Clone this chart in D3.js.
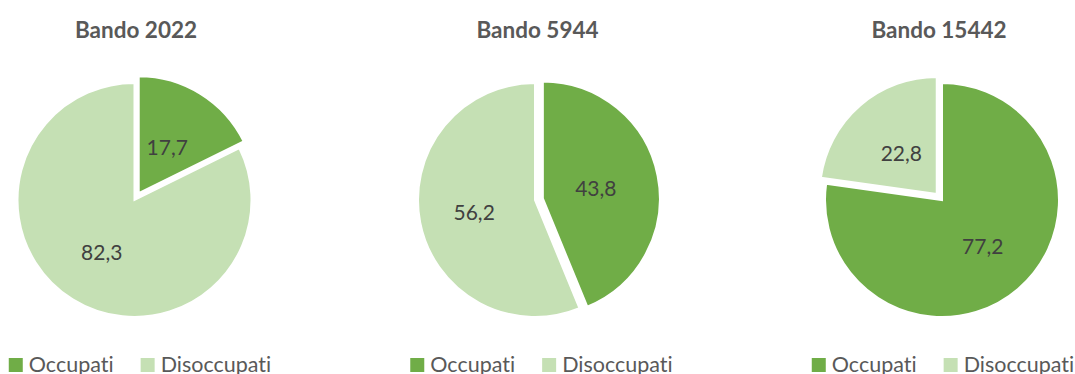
<!DOCTYPE html>
<html>
<head>
<meta charset="utf-8">
<script src="https://cdn.jsdelivr.net/npm/d3@7"></script>
<style>
  html, body { margin: 0; padding: 0; background: #fff; overflow: hidden; }
  svg { display: block; }
  text { font-variant-ligatures: none; font-feature-settings: "liga" 0; }
</style>
</head>
<body>
<svg id="chart" width="1075" height="374"></svg>
<script>
// Share of employed / unemployed per call for applications (percent)
const bandi = ["Bando 2022", "Bando 5944", "Bando 15442"];
const categories = ["Occupati", "Disoccupati"];
const occupati = [17.7, 43.8, 77.2];
const disoccupati = [82.3, 56.2, 22.8];
// Index of the slice pulled out of each pie
const explodedSlice = [0, 0, 1];

const colors = ["#70AD47", "#C5E0B4"];
const W = 1075, H = 374;
const radius = 117;
const explodeOffset = 8;
const cy = 200;

const svg = d3.select("#chart");
const fmt = v => d3.format(".1f")(v).replace(".", ",");

const xPanel = d3.scalePoint().domain(bandi).range([136, 939]);
const color = d3.scaleOrdinal().domain(categories).range(colors);

const pie = d3.pie().sort(null).value(d => d.value);
const arc = d3.arc().innerRadius(0).outerRadius(radius);
const labelArc = d3.arc().innerRadius(radius * 0.53).outerRadius(radius * 0.53);

const pieShift = [-1.5, -2.5, 3];

bandi.forEach((name, i) => {
  const cx = xPanel(name);
  const g = svg.append("g");

  // title
  g.append("text")
    .attr("x", cx)
    .attr("y", 37.5)
    .attr("text-anchor", "middle")
    .attr("font-family", "Lato, sans-serif")
    .attr("font-weight", "bold")
    .attr("font-size", 22.5)
    .attr("fill", "#595959")
    .text(name);

  const data = [
    { key: categories[0], value: occupati[i] },
    { key: categories[1], value: disoccupati[i] }
  ];
  const arcs = pie(data);

  const pg = g.append("g").attr("transform", `translate(${cx + pieShift[i]},${cy})`);

  pg.selectAll("path")
    .data(arcs)
    .join("path")
    .attr("d", arc)
    .attr("transform", (d, j) => {
      if (j !== explodedSlice[i]) return null;
      const a = (d.startAngle + d.endAngle) / 2;
      return `translate(${Math.sin(a) * explodeOffset},${-Math.cos(a) * explodeOffset})`;
    })
    .attr("fill", d => color(d.data.key))
    .attr("stroke", "#fff")
    .attr("stroke-width", 2)
    .attr("stroke-linejoin", "miter");

  pg.selectAll("text.val")
    .data(arcs)
    .join("text")
    .attr("class", "val")
    .attr("transform", d => `translate(${labelArc.centroid(d)})`)
    .attr("dy", "0.36em")
    .attr("text-anchor", "middle")
    .attr("font-family", "Lato, sans-serif")
    .attr("font-size", 21)
    .attr("fill", "#404040")
    .text(d => fmt(d.data.value));

  // legend
  const lg = g.append("g");
  const items = lg.selectAll("g.item")
    .data(categories)
    .join("g")
    .attr("class", "item");
  items.append("rect")
    .attr("y", 358)
    .attr("width", 14)
    .attr("height", 14)
    .attr("fill", d => color(d));
  items.append("text")
    .attr("x", 20)
    .attr("y", 372)
    .attr("font-family", "Lato, sans-serif")
    .attr("font-size", 21.5)
    .attr("fill", "#595959")
    .text(d => d);

  let x = 0;
  items.each(function () {
    const it = d3.select(this);
    it.attr("transform", `translate(${x},0)`);
    x += 20 + it.select("text").node().getComputedTextLength() + 27;
  });
  const total = x - 27;
  lg.attr("transform", `translate(${cx + 4 - total / 2},0)`);
});
</script>
</body>
</html>
